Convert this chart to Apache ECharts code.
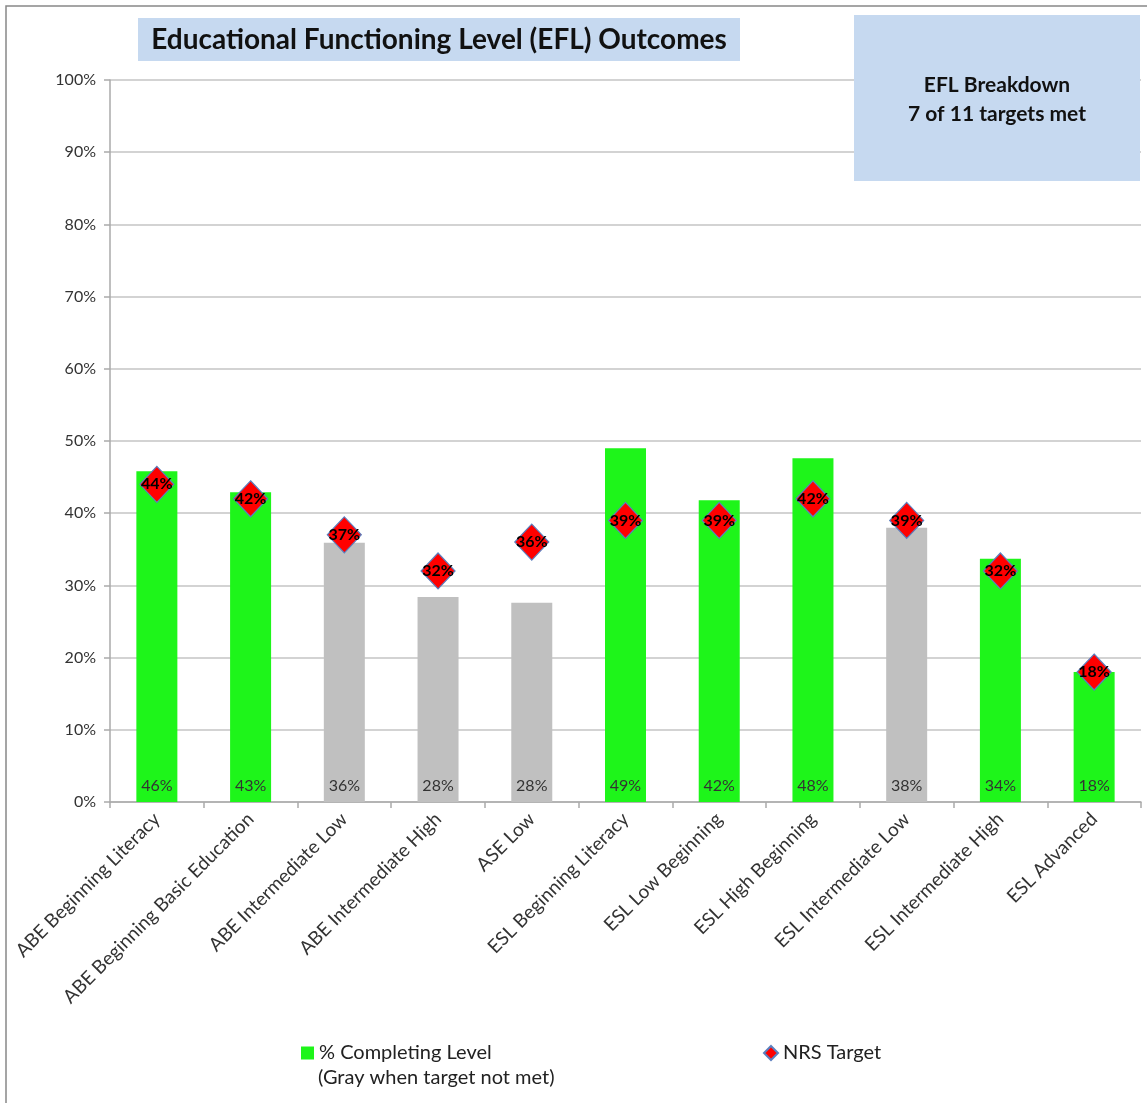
<!DOCTYPE html>
<html>
<head>
<meta charset="utf-8">
<title>EFL Outcomes</title>
<script src="https://cdn.jsdelivr.net/npm/echarts@6/dist/echarts.min.js"></script>
<style>
  html, body { margin: 0; padding: 0; background: #fff; }
  #chart { width: 1147px; height: 1103px; }
</style>
</head>
<body>
<div id="chart"></div>
<script>
const categories = [
  'ABE Beginning Literacy', 'ABE Beginning Basic Education', 'ABE Intermediate Low',
  'ABE Intermediate High', 'ASE Low', 'ESL Beginning Literacy', 'ESL Low Beginning',
  'ESL High Beginning', 'ESL Intermediate Low', 'ESL Intermediate High', 'ESL Advanced'
]
const completing = [45.8, 42.9, 35.9, 28.4, 27.6, 49.0, 41.8, 47.6, 38.0, 33.7, 18.0]
const nrsTarget = [44, 42, 37, 32, 36, 39, 39, 42, 39, 32, 18]
const yTicks = [0, 10, 20, 30, 40, 50, 60, 70, 80, 90, 100]

const font = 'Lato, "Open Sans", sans-serif'
const green = '#1ef51a'
const gray = '#c0c0c0'

const chart = echarts.init(document.getElementById('chart'))

chart.setOption({
  animation: false,
  textStyle: { fontFamily: font },
  grid: { left: 110, right: 6, top: 80, bottom: 301 },
  legend: [{
    data: ['% Completing Level'],
    left: 296, top: 1038,
    itemWidth: 13, itemHeight: 13, icon: 'rect',
    textStyle: { fontSize: 20, color: '#222', fontFamily: font }
  }, {
    data: ['NRS Target'],
    left: 758, top: 1038,
    itemWidth: 14, itemHeight: 14,
    textStyle: { fontSize: 20, color: '#222', fontFamily: font }
  }],
  graphic: [
    { type: 'rect', shape: { x: 6, y: 6, width: 1160, height: 1120 }, style: { fill: 'none', stroke: '#888', lineWidth: 1.5 }, z: -1 },
    { type: 'rect', shape: { x: 138, y: 18, width: 602, height: 43 }, style: { fill: '#c6d9f0' }, z: -1 },
    { type: 'text', x: 439, y: 40, style: { text: 'Educational Functioning Level (EFL) Outcomes', font: 'bold 28px ' + font, fill: '#111', align: 'center', verticalAlign: 'middle' } },
    { type: 'rect', shape: { x: 854, y: 15, width: 286, height: 166 }, style: { fill: '#c6d9f0' }, z: 10 },
    { type: 'text', x: 997, y: 100, z: 11, style: { text: 'EFL Breakdown\n7 of 11 targets met', font: 'bold 21px ' + font, lineHeight: 29, fill: '#111', align: 'center', verticalAlign: 'middle' } },
    { type: 'text', x: 318, y: 1078, style: { text: '(Gray when target not met)', font: '20px ' + font, fill: '#222', verticalAlign: 'middle' } }
  ],
  xAxis: {
    type: 'category',
    data: categories,
    axisLine: { lineStyle: { color: '#aaa', width: 1.5 } },
    axisTick: { show: true, length: 6, lineStyle: { color: '#aaa', width: 1.5 } },
    axisLabel: { rotate: 45, interval: 0, margin: 14, fontSize: 19, color: '#333', fontFamily: font }
  },
  yAxis: {
    type: 'value',
    min: 0, max: 100, interval: 10,
    axisLine: { show: true, lineStyle: { color: '#aaa', width: 1.5 } },
    axisTick: { show: true, length: 6, lineStyle: { color: '#aaa', width: 1.5 } },
    axisLabel: {
      fontSize: 16, color: '#333', margin: 14, fontFamily: font,
      formatter: v => yTicks.includes(v) ? v + '%' : ''
    },
    splitLine: { lineStyle: { color: '#c4c4c4', width: 1.5 } }
  },
  series: [{
    name: '% Completing Level',
    type: 'bar',
    barWidth: 41,
    itemStyle: { color: green },
    data: completing.map((v, i) => ({
      value: v,
      itemStyle: { color: Math.round(v) >= nrsTarget[i] ? green : gray }
    })),
    label: {
      show: true, position: 'insideBottom', distance: 8,
      fontSize: 16, color: '#333', fontFamily: font,
      formatter: p => Math.round(p.value) + '%'
    }
  }, {
    name: 'NRS Target',
    type: 'scatter',
    symbol: 'diamond',
    symbolSize: [34, 36],
    itemStyle: { color: '#ff0000', opacity: 1, borderColor: '#5b7fbf', borderWidth: 1.2 },
    data: nrsTarget,
    z: 5,
    label: {
      show: true, position: 'inside',
      fontSize: 16, fontWeight: 'bold', color: '#000', fontFamily: font,
      formatter: p => p.value + '%'
    }
  }]
})
</script>
</body>
</html>
